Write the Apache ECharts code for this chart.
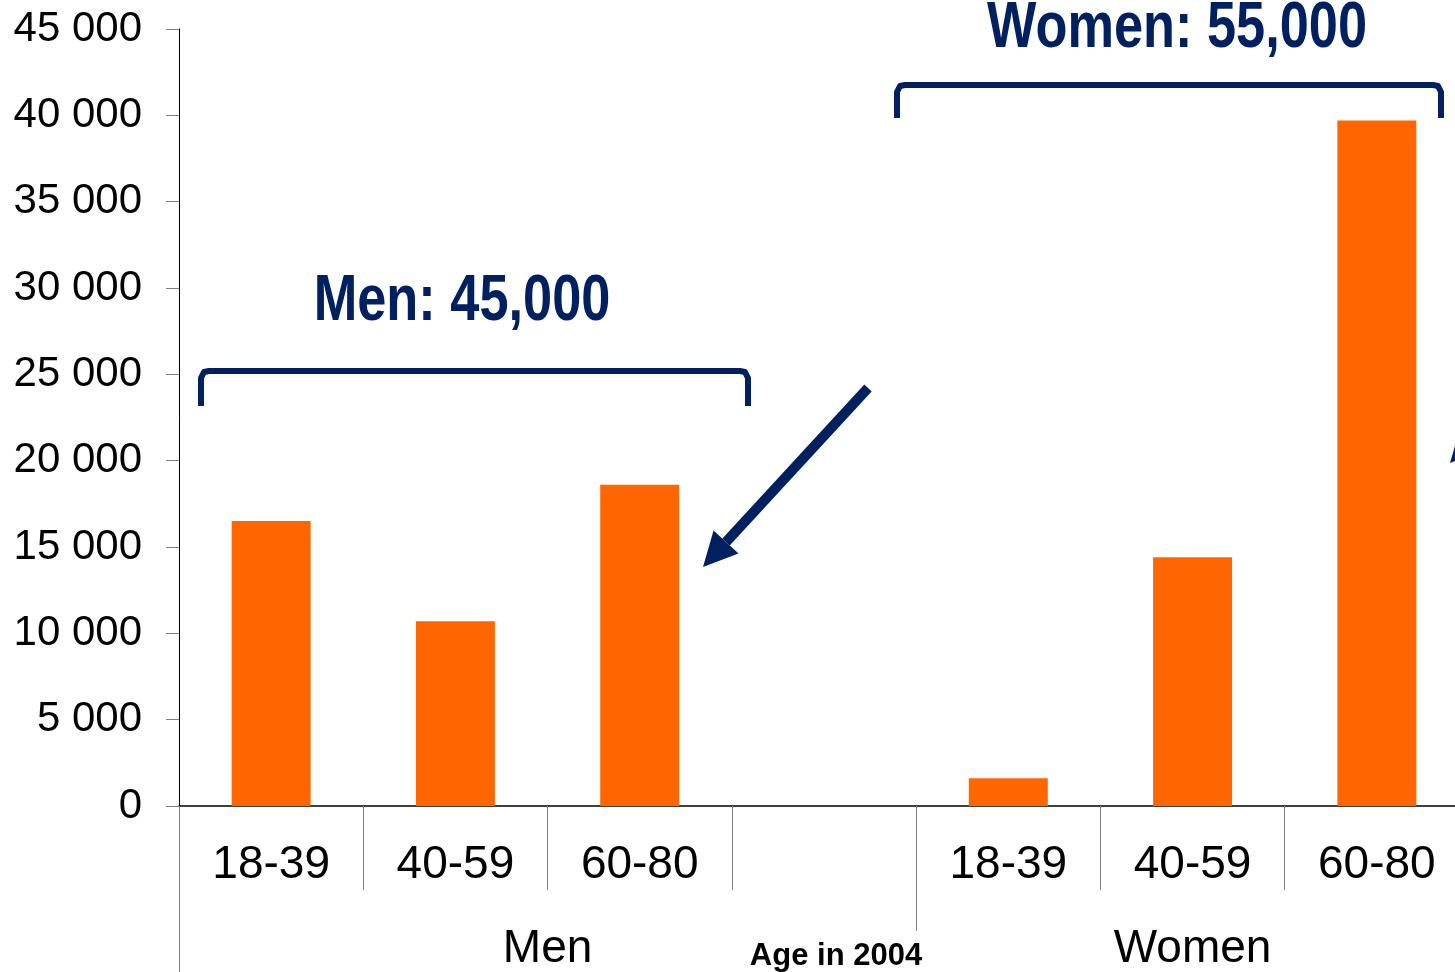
<!DOCTYPE html>
<html>
<head>
<meta charset="utf-8">
<script src="https://cdn.jsdelivr.net/npm/echarts@6/dist/echarts.min.js"></script>
<style>
html,body{margin:0;padding:0;background:#fff;}
#chart{width:1455px;height:972px;}
</style>
</head>
<body>
<div id="chart"></div>
<script>
// ---- data ----
var categories = ['18-39', '40-59', '60-80', '', '18-39', '40-59', '60-80'];
var values = [16500, 10700, 18600, null, 1600, 14400, 39700];
var groupNames = ['Men', 'Women'];
var groupSlots = [4, 3];
var yTicks = [0, 5000, 10000, 15000, 20000, 25000, 30000, 35000, 40000, 45000];
var axisTitle = 'Age in 2004';
var noteMen = 'Men: 45,000';
var noteWomen = 'Women: 55,000';

// group boundaries & centres in category units
var bounds = [0], centres = [];
groupSlots.forEach(function (n, i) {
  var s = bounds[bounds.length - 1];
  bounds.push(s + n);
  centres.push(s + n / 2);
});

var NAVY = '#002060';
var FONT = "'Liberation Sans', Arial, sans-serif";

var chart = echarts.init(document.getElementById('chart'), null, {renderer: 'canvas'});

function fmt(v) {
  return String(v).replace(/\B(?=(\d{3})+(?!\d))/g, ' ');
}

// arrow geometry helper (annotation only)
function arrowHead(tip, dir, len, half) {
  var l = Math.sqrt(dir[0] * dir[0] + dir[1] * dir[1]);
  var u = [dir[0] / l, dir[1] / l];
  var b = [tip[0] - u[0] * len, tip[1] - u[1] * len];
  var p = [-u[1], u[0]];
  return {
    base: b,
    pts: [tip, [b[0] + p[0] * half, b[1] + p[1] * half], [b[0] - p[0] * half, b[1] - p[1] * half]]
  };
}
var a1 = arrowHead([703, 567], [-165, 179], 34, 17);
var a2 = arrowHead([1450, 463], [-165, 179], 34, 17);

function narrowText(x, y, txt) {
  return {
    type: 'text', silent: true, x: x, y: y, scaleX: 0.805, scaleY: 1,
    style: {x: 0, y: 0, text: txt, fontSize: 65, fontWeight: 'bold', fontFamily: FONT, fill: NAVY, textAlign: 'center', textVerticalAlign: 'middle'}
  };
}

var option = {
  animation: false,
  backgroundColor: '#ffffff',
  grid: {left: 179, top: 29, bottom: 166, right: -14, outerBoundsMode: 'none', containLabel: false},
  xAxis: [
    {
      type: 'category',
      data: categories,
      boundaryGap: true,
      position: 'bottom',
      axisLine: {show: true, onZero: false, lineStyle: {color: '#000', width: 1.5}},
      axisTick: {show: true, interval: 0, length: 84, lineStyle: {color: '#808080', width: 1}},
      axisLabel: {show: true, interval: 0, margin: 36, fontSize: 46, lineHeight: 46, color: '#000', fontFamily: FONT},
      splitLine: {show: false}
    },
    {
      type: 'value',
      min: 0, max: categories.length,
      position: 'bottom',
      axisLine: {show: false},
      axisTick: {show: true, customValues: bounds.slice(0, bounds.length - 1), length: 125, lineStyle: {color: '#808080', width: 1}},
      axisLabel: {
        show: true, customValues: centres, margin: 120, fontSize: 46, lineHeight: 46, color: '#000', fontFamily: FONT,
        formatter: function (v) {
          var i = centres.indexOf(v);
          return i >= 0 ? groupNames[i] : '';
        }
      },
      splitLine: {show: false}
    },
    {
      type: 'value',
      min: 0, max: categories.length,
      position: 'bottom',
      axisLine: {show: false},
      axisTick: {show: true, customValues: [0], length: 170, lineStyle: {color: '#808080', width: 1}},
      axisLabel: {show: false},
      splitLine: {show: false}
    }
  ],
  yAxis: {
    type: 'value',
    min: 0, max: yTicks[yTicks.length - 1], interval: yTicks[1] - yTicks[0],
    axisLine: {show: true, lineStyle: {color: '#000', width: 1}},
    axisTick: {show: true, length: 13, lineStyle: {color: '#808080', width: 1}},
    axisLabel: {margin: 37, fontSize: 42, color: '#000', fontFamily: FONT, formatter: fmt},
    splitLine: {show: false}
  },
  series: [{
    type: 'bar',
    xAxisIndex: 0,
    data: values,
    barWidth: 79,
    itemStyle: {color: '#FF6600'},
    silent: true
  }],
  graphic: [
    {
      type: 'text', silent: true,
      style: {x: 836, y: 956, text: axisTitle, fontSize: 31, fontWeight: 'bold', fontFamily: FONT, fill: '#000', textAlign: 'center', textVerticalAlign: 'middle'}
    },
    narrowText(462, 302, noteMen),
    narrowText(1177, 29, noteWomen),
    {
      type: 'polyline', silent: true,
      shape: {points: [[201, 406], [201, 378], [204, 372], [209, 371], [740, 371], [745, 372], [748, 378], [748, 406]]},
      style: {stroke: NAVY, lineWidth: 6, fill: null, lineJoin: 'round'}
    },
    {
      type: 'polyline', silent: true,
      shape: {points: [[897, 118], [897, 92], [900, 86], [905, 85], [1433, 85], [1438, 86], [1441, 92], [1441, 118]]},
      style: {stroke: NAVY, lineWidth: 6, fill: null, lineJoin: 'round'}
    },
    {
      type: 'polyline', silent: true,
      shape: {points: [[868, 388], a1.base]},
      style: {stroke: NAVY, lineWidth: 10, fill: null}
    },
    {
      type: 'polygon', silent: true,
      shape: {points: a1.pts},
      style: {fill: NAVY}
    },
    {
      type: 'polygon', silent: true,
      shape: {points: a2.pts},
      style: {fill: NAVY}
    }
  ]
};
chart.setOption(option);
</script>
</body>
</html>
